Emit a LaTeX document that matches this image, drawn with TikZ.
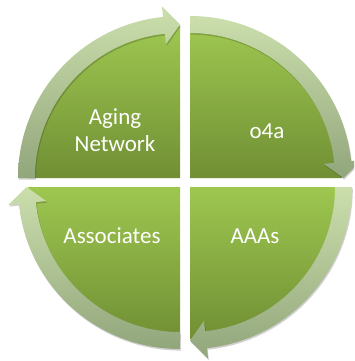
\documentclass[tikz,border=0pt]{standalone}
\usepackage{fontspec}
\setmainfont{Carlito}
\definecolor{pieTop}{RGB}{158,199,80}
\definecolor{pieBot}{RGB}{112,143,52}
\definecolor{bandTop}{RGB}{203,222,172}
\definecolor{bandBot}{RGB}{146,166,124}
\tikzset{
  pie/.style={top color=pieTop,bottom color=pieBot,draw=none},
  band/.style={top color=bandTop,bottom color=bandBot,draw=none},
  bandshadow/.style={fill=black,fill opacity=0.18,draw=none},
  lbl/.style={text=white,align=center,font=\fontsize{23}{27.5}\selectfont,inner sep=0pt}
}
% #1,#2 = corner, #3 = tail angle (head is at #3-90)
\newcommand\quadpie[3]{%
  \shade[pie] (#1,#2) -- ++(#3:152) arc[start angle=#3,end angle={#3-90},radius=152] -- cycle;}
\newcommand\bandpath[3]{%
  (#1,#2) ++(#3:162) arc[start angle=#3,end angle={#3-84},radius=162]
  -- ($(#1,#2)+({#3-84}:172.5)$) -- ($(#1,#2)+({#3-90}:153.5)$)
  -- ($(#1,#2)+({#3-84}:134.5)$) -- ($(#1,#2)+({#3-84}:145)$)
  arc[start angle={#3-84},end angle=#3,radius=145] -- cycle}
\newcommand\quadband[3]{%
  \fill[bandshadow,shift={(0.8,-1.6)}] \bandpath{#1}{#2}{#3};
  \shade[band] \bandpath{#1}{#2}{#3};}
\usetikzlibrary{calc}
\begin{document}
\begin{tikzpicture}[x=1pt,y=1pt]
\useasboundingbox (0,0) rectangle (354,-361);
\clip (0,0) rectangle (354,-361);
\fill[white] (0,0) rectangle (354,-361);
% quadrants
\quadpie{180}{-178}{180}
\quadpie{190}{-178}{90}
\quadpie{190}{-187}{0}
\quadpie{180}{-187}{-90}
% arrow bands
\quadband{180}{-178}{180}
\quadband{190}{-178}{90}
\quadband{190}{-187}{0}
\quadband{180}{-187}{-90}
% labels
\node[lbl] (tl) at (115,-130) {Aging\\Network};
\node[lbl] (tr) at (267,-131) {o4a};
\node[lbl] (bl) at (112,-236) {Associates};
\node[lbl] (br) at (255,-236) {AAAs};
\end{tikzpicture}
\end{document}
